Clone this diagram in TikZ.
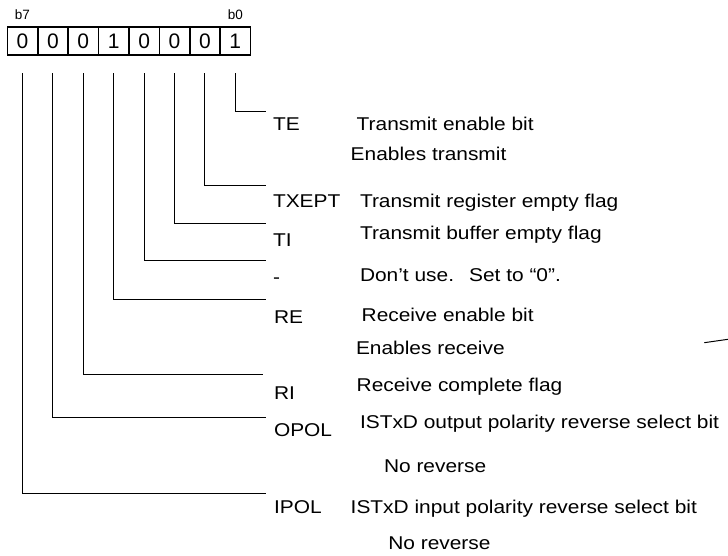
\documentclass[tikz,border=0pt]{standalone}
\usepackage{fontspec}
\setmainfont{Liberation Sans}
\newfontfamily\descfont[FakeStretch=1.13]{Liberation Sans}
\usetikzlibrary{calc}

\begin{document}
\begin{tikzpicture}[x=1pt, y=-1pt,
  every node/.style={inner sep=0pt, outer sep=0pt},
  bitcell/.style={draw, line width=1.6pt, minimum width=30.4pt, minimum height=28pt, font=\fontsize{21}{21}\selectfont},
  bitno/.style={anchor=base, font=\fontsize{13.5}{13.5}\selectfont},
  fld/.style={anchor=base west, font=\descfont\fontsize{18.5}{18.5}\selectfont},
  lead/.style={line width=1pt}]
  \useasboundingbox (0,0) rectangle (728,556);

  % register cells, b0 on the right
  \foreach \v [count=\i from 0] in {1,0,0,0,1,0,0,0}
    \node[bitcell] (b\i) at ({235.3-30.4*\i},41.3) {\v};
  \node[bitno] (msb) at ($(b7.north)+(0,-8)$) {b7};
  \node[bitno] (lsb) at ($(b0.north)+(0,-8)$) {b0};

  % leader ends
  \coordinate (te)    at (266,111.7);
  \coordinate (txept) at (266,185.3);
  \coordinate (ti)    at (266,223.3);
  \coordinate (rsv)   at (266,260.7);
  \coordinate (re)    at (266,299.0);
  \coordinate (ri)    at (262.7,374.3);
  \coordinate (opol)  at (266,417.7);
  \coordinate (ipol)  at (266,493.3);
  \foreach \i/\c in {0/te,1/txept,2/ti,3/rsv,4/re,5/ri,6/opol,7/ipol}
    \draw[lead] ($(b\i.south)+(0,18)$) |- (\c);

  \node[fld] (teName)    at (273,131)   {TE};
  \node[fld] (teDesc)    at (356.7,131) {Transmit enable bit};
  \node[fld] (teNote)    at (350.7,160.5) {Enables transmit};
  \node[fld] (txeptName) at (273,207.7) {TXEPT};
  \node[fld] (txeptDesc) at (360,207.7) {Transmit register empty flag};
  \node[fld] (tiName)    at (273,246.7) {TI};
  \node[fld] (tiDesc)    at (360,240)   {Transmit buffer empty flag};
  \node[fld] (rsvName)   at (273,283)   {-};
  \node[fld] (rsvDesc)   at (360,281)   {Don’t use.\hspace{15pt}Set to “0”.};
  \node[fld] (reName)    at (274,323.3) {RE};
  \node[fld] (reDesc)    at (361.7,321.7) {Receive enable bit};
  \node[fld] (reNote)    at (356,354)   {Enables receive};
  \node[fld] (riName)    at (274,399.3) {RI};
  \node[fld] (riDesc)    at (356.7,391.7) {Receive complete flag};
  \node[fld] (opolName)  at (274,436)   {OPOL};
  \node[fld] (opolDesc)  at (360,428.3) {ISTxD output polarity reverse select bit};
  \node[fld] (opolNote)  at (384,472.7) {No reverse};
  \node[fld] (ipolName)  at (274,513.3) {IPOL};
  \node[fld] (ipolDesc)  at (350.7,513.3) {ISTxD input polarity reverse select bit};
  \node[fld] (ipolNote)  at (388.3,549.3) {No reverse};

  \draw[lead] (704.3,342.7) -- (728,339.3);
\end{tikzpicture}
\end{document}
